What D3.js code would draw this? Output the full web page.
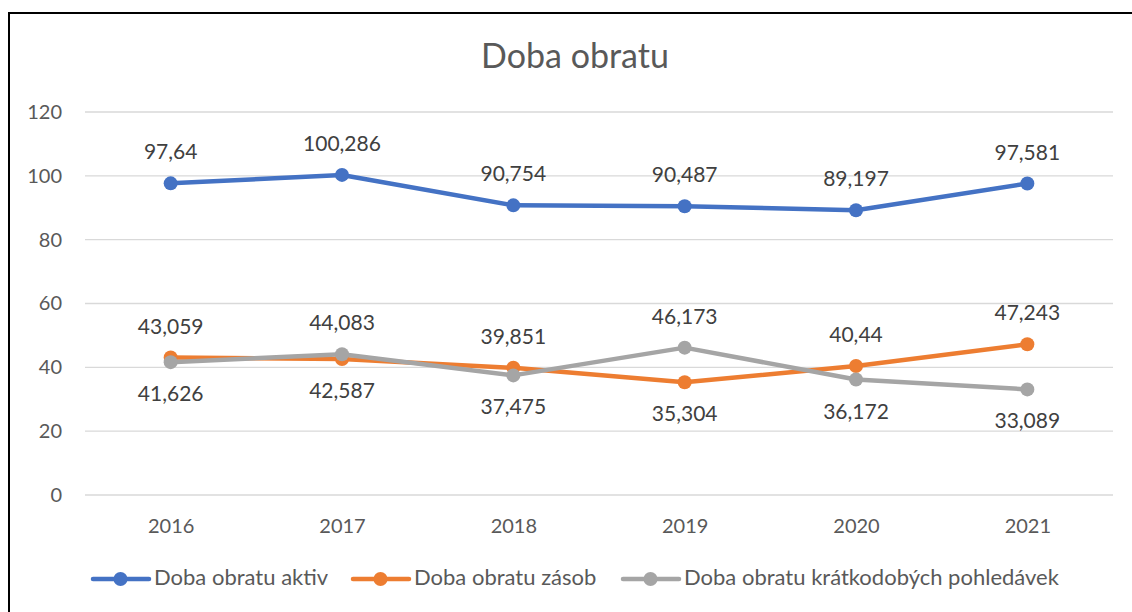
<!DOCTYPE html>
<html lang="cs">
<head>
  <meta charset="UTF-8">
  <title>Doba obratu</title>
  <script src="https://cdn.jsdelivr.net/npm/d3@7"></script>
  <style>
    body { margin: 0; background: #fff; }
    text { font-family: Lato, "Open Sans", sans-serif; }
    .axis path, .axis line { display: none; }
    .axis text { font-size: 20px; fill: #595959; }
    .grid line { stroke: #d9d9d9; stroke-width: 1.3px; }
    .lbl { font-size: 21px; fill: #404040; text-anchor: middle; }
    .legend text { font-size: 22px; fill: #595959; }
  </style>
</head>
<body>
<script>
  const years = ['2016', '2017', '2018', '2019', '2020', '2021']
  const aktiv = [97.64, 100.286, 90.754, 90.487, 89.197, 97.581]
  const zasob = [43.059, 42.587, 39.851, 35.304, 40.44, 47.243]
  const pohledavek = [41.626, 44.083, 37.475, 46.173, 36.172, 33.089]
  const seriesNames = ['Doba obratu aktiv', 'Doba obratu zásob', 'Doba obratu krátkodobých pohledávek']
  const yTicks = [0, 20, 40, 60, 80, 100, 120]

  const width = 1132, height = 612
  const colors = ['#4472C4', '#ED7D31', '#A5A5A5']
  const fmt = v => String(v).replace('.', ',')

  const svg = d3.select('body').append('svg')
    .attr('width', width)
    .attr('height', height)

  // ramecek (jen levy a horni okraj je videt)
  svg.append('path')
    .attr('d', 'M9,' + height + ' V13 H' + width)
    .attr('fill', 'none')
    .attr('stroke', '#000')
    .attr('stroke-width', 2)

  svg.append('text')
    .attr('x', 575).attr('y', 68)
    .attr('text-anchor', 'middle')
    .style('font-size', '34px')
    .style('fill', '#595959')
    .text('Doba obratu')

  const x = d3.scalePoint()
    .domain(years)
    .range([85, 1113])
    .padding(0.5)

  const y = d3.scaleLinear()
    .domain([0, 120])
    .range([495, 112])

  // mrizka
  svg.append('g').attr('class', 'grid')
    .selectAll('line')
    .data(yTicks)
    .enter().append('line')
    .attr('x1', 85).attr('x2', 1113)
    .attr('y1', d => y(d)).attr('y2', d => y(d))

  svg.append('g')
    .attr('class', 'axis')
    .attr('transform', 'translate(74,0)')
    .call(d3.axisLeft(y).tickValues(yTicks).tickSize(0).tickPadding(12))

  svg.append('g')
    .attr('class', 'axis')
    .attr('transform', 'translate(0,' + 511 + ')')
    .call(d3.axisBottom(x).tickSize(0).tickPadding(8))

  const series = [aktiv, zasob, pohledavek]
  const line = d3.line().x((d, i) => x(years[i])).y(d => y(d))

  series.forEach((vals, s) => {
    const g = svg.append('g')
    g.append('path')
      .datum(vals)
      .attr('d', line)
      .attr('fill', 'none')
      .attr('stroke', colors[s])
      .attr('stroke-width', 4.5)
      .attr('stroke-linejoin', 'round')
    g.selectAll('circle')
      .data(vals)
      .enter().append('circle')
      .attr('cx', (d, i) => x(years[i]))
      .attr('cy', d => y(d))
      .attr('r', 7)
      .attr('fill', colors[s])
  })

  // popisky hodnot: vyssi z dvojice nahore, nizsi dole
  series.forEach((vals, s) => {
    svg.selectAll('.lbl' + s)
      .data(vals)
      .enter().append('text')
      .attr('class', 'lbl')
      .attr('x', (d, i) => x(years[i]))
      .attr('y', (d, i) => {
        let above = true
        if (s === 1) above = d > pohledavek[i]
        if (s === 2) above = d > zasob[i]
        return above ? y(d) - 24 : y(d) + 39
      })
      .text(d => fmt(d))
  })

  // legenda
  const legX = [93, 353, 623]
  const leg = svg.append('g').attr('class', 'legend')
  seriesNames.forEach((name, s) => {
    const g = leg.append('g').attr('transform', 'translate(' + legX[s] + ',579)')
    g.append('line')
      .attr('x1', 0).attr('x2', 56)
      .attr('stroke', colors[s])
      .attr('stroke-width', 4.5)
      .attr('stroke-linecap', 'round')
    g.append('circle').attr('cx', 27.5).attr('r', 7).attr('fill', colors[s])
    g.append('text').attr('x', 61).attr('y', 6).text(name)
  })
</script>
</body>
</html>
